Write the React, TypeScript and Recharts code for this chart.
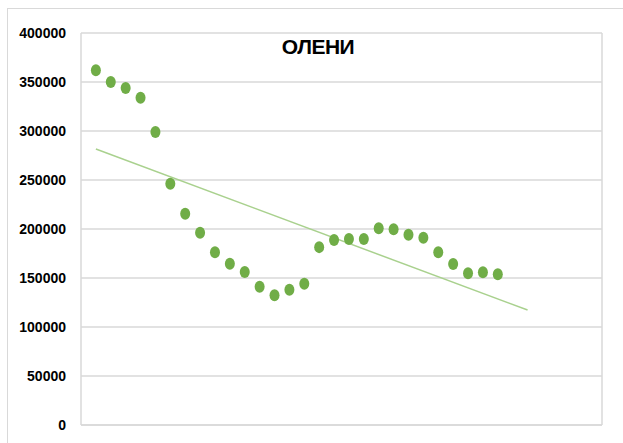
import React from "react";
import { ScatterChart, Scatter, XAxis, YAxis, CartesianGrid } from "recharts";

const years = [1,2,3,4,5,6,7,8,9,10,11,12,13,14,15,16,17,18,19,20,21,22,23,24,25,26,27,28];
const deer = [362000,350000,343900,334000,299000,246200,215600,196200,176200,164600,156100,141100,132300,138100,144200,181500,188800,189800,189800,200700,199700,194200,191100,176200,164300,154800,155800,153800];
const trendX = [1, 30];
const trendY = [281600, 117300];
const xTicks = [0, 5, 10, 15, 20, 25, 30, 35];
const yTicks = [0, 50000, 100000, 150000, 200000, 250000, 300000, 350000, 400000];
const title = "ОЛЕНИ";

const points = years.map((x, i) => ({ x, y: deer[i] }));
const trend = trendX.map((x, i) => ({ x, y: trendY[i] }));

const Dot = (props: any) => {
  const { cx, cy } = props;
  if (cx == null || cy == null) return null;
  return <ellipse cx={cx} cy={cy} rx={5} ry={6} fill="#70AD47" />;
};

const NoDot = () => null;

export default function App() {
  return (
    <div style={{ position: "absolute", left: 0, top: 0, width: 623, height: 443, overflow: "hidden", background: "#fff" }}>
      <div style={{ position: "absolute", left: 7, top: 8, width: 700, height: 600, border: "1.5px solid #d9d9d9", boxSizing: "border-box" }} />
      <div style={{ position: "absolute", left: 0, top: 0 }}>
        <ScatterChart width={623} height={443} margin={{ top: 33, right: 21, bottom: 0, left: 0 }}>
          <CartesianGrid stroke="#d9d9d9" strokeWidth={1.5} />
          <XAxis type="number" dataKey="x" domain={[0, 35]} ticks={xTicks} tick={false} tickLine={false} axisLine={{ stroke: "#d9d9d9", strokeWidth: 1.5 }} height={18} allowDataOverflow />
          <YAxis type="number" dataKey="y" domain={[0, 400000]} ticks={yTicks} width={81} axisLine={false} tickLine={false} tickSize={6} tickMargin={9}
            tick={{ fill: "#000", fontSize: 14, fontWeight: 700, fontFamily: "Liberation Sans, Arial, sans-serif" }} />
          <Scatter data={trend} line={{ stroke: "#A9D18E", strokeWidth: 1.5 }} shape={NoDot} isAnimationActive={false} />
          <Scatter data={points} shape={Dot} isAnimationActive={false} />
          <text x={318} y={54} textAnchor="middle" fontSize={21} fontWeight={700} fontFamily="Liberation Sans, Arial, sans-serif" fill="#000" letterSpacing={-0.5}>{title}</text>
        </ScatterChart>
      </div>
    </div>
  );
}
